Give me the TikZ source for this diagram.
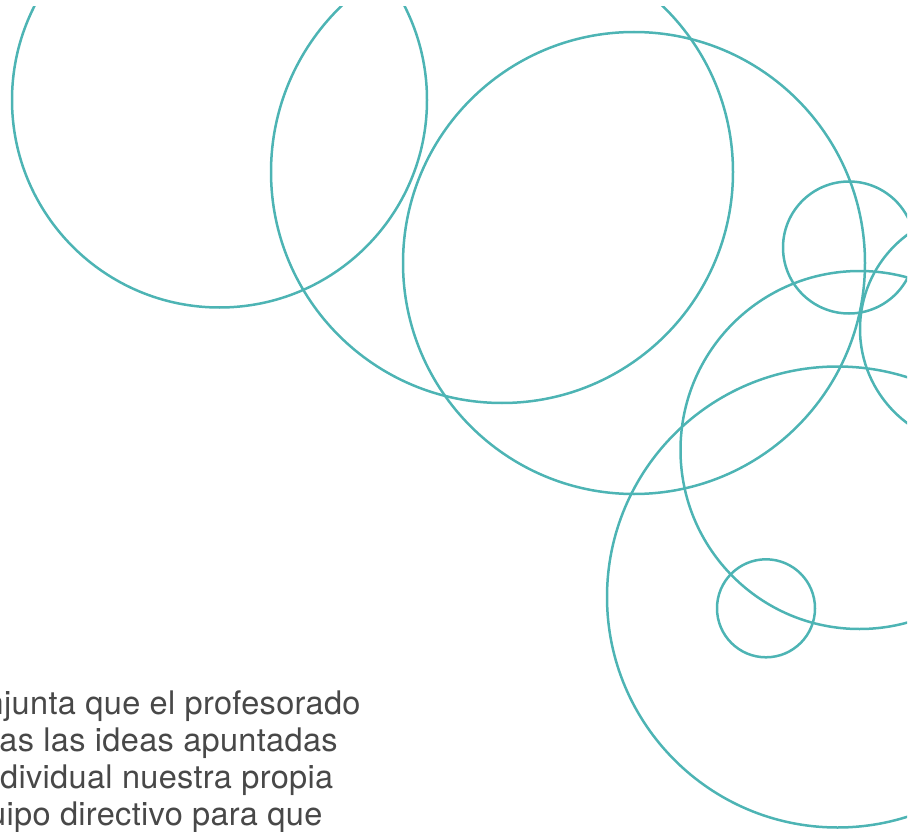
\documentclass[tikz,border=0pt]{standalone}
\usepackage{fontspec}
\newfontfamily\txtfont[LetterSpace=1]{TeX Gyre Heros}
\definecolor{ringteal}{HTML}{4DB4B4}
\definecolor{txtgray}{HTML}{484848}
\begin{document}
\begin{tikzpicture}[x=1pt,y=-1pt,
  ring/.style={draw=ringteal, line width=2.5pt},
  txt/.style={anchor=base west, inner sep=0pt, font=\txtfont\fontsize{32.5}{38}\selectfont, text=txtgray},
  cut/.style={txt, anchor=base east}]
\useasboundingbox (0,0) rectangle (924,832);
\begin{scope}
  \clip (0,7) rectangle (907,832);
  \draw[ring] (219.5,100) circle[radius=207.5];
  \draw[ring] (502,172) circle[radius=231];
  \draw[ring] (634,263) circle[radius=231];
  \draw[ring] (849,247.5) circle[radius=66];
  \draw[ring] (977.5,329) circle[radius=117.5];
  \draw[ring] (859.5,450) circle[radius=179];
  \draw[ring] (837.5,597) circle[radius=230.5];
  \draw[ring] (766,608.3) circle[radius=49];
\end{scope}
\begin{scope}
  \clip (0,0) rectangle (924,832);
  \node[txt] (l1) at (4,714) {junta que el profesorado};
  \node[cut] (c1) at (l1.base west) {n};
  \node[txt] (l2) at (-0.8,751.5) {as las ideas apuntadas};
  \node[txt] (l3) at (0,788.5) {dividual nuestra propia};
  \node[txt] (l4) at (6.5,825) {ipo directivo para que};
  \node[cut] (c4) at (l4.base west) {u};
\end{scope}
\end{tikzpicture}
\end{document}
